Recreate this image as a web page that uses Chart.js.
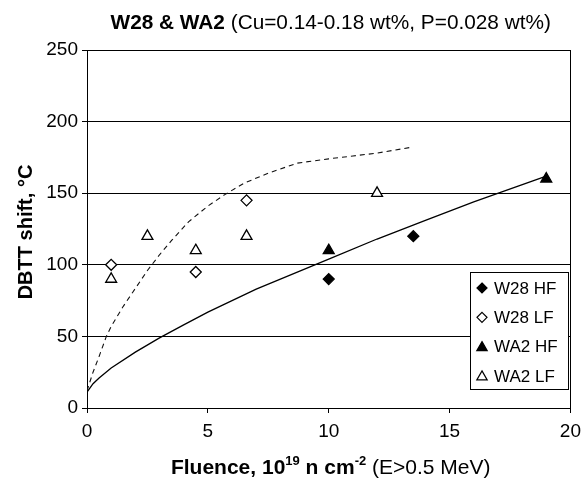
<!DOCTYPE html>
<html>
<head>
<meta charset="utf-8">
<script src="https://cdn.jsdelivr.net/npm/chart.js@4"></script>
<style>
  body { margin: 0; background: #fff; }
  canvas { display: block; }
</style>
</head>
<body>
<canvas id="chart" width="588" height="482"></canvas>
<script>
// data
const w28HfX = [10, 13.5];
const w28HfY = [90, 120];
const w28LfX = [1, 4.5, 6.6];
const w28LfY = [100, 95, 145];
const wa2HfX = [10, 19];
const wa2HfY = [110, 160];
const wa2LfX = [1, 2.5, 4.5, 6.6, 12];
const wa2LfY = [90, 120, 110, 120, 150];

// trend curves (read point by point)
const hfCurveX = [0, 0.25, 0.5, 1, 2, 3, 4, 5, 6, 7, 8, 10, 12, 14, 16, 19];
const hfCurveY = [11, 17, 21, 28, 39, 49, 58, 67, 75, 83, 90, 104, 118, 131, 144, 162];
const lfCurveX = [0, 0.25, 0.5, 0.8, 1, 1.5, 1.9, 2.5, 3, 3.5, 4.2, 5, 5.7, 6.5, 7.5, 8.7, 10, 11, 12, 13.4];
const lfCurveY = [12, 25, 36, 50, 57, 71, 81, 96, 107, 117, 130, 141, 149, 157, 164, 171, 174, 176, 178, 182];

const xTicks = [0, 5, 10, 15, 20];
const yTicks = [0, 50, 100, 150, 200, 250];

const FONT = '"Liberation Sans", Arial, Helvetica, sans-serif';

function pts(xs, ys) {
    return xs.map((x, i) => ({ x: x, y: ys[i] }));
}

const markerSets = [
    { label: 'W28 HF', data: pts(w28HfX, w28HfY), pointStyle: 'rectRot', pointRadius: 5.5, pointBackgroundColor: '#000' },
    { label: 'W28 LF', data: pts(w28LfX, w28LfY), pointStyle: 'rectRot', pointRadius: 5.5, pointBackgroundColor: '#fff' },
    { label: 'WA2 HF', data: pts(wa2HfX, wa2HfY), pointStyle: 'triangle', pointRadius: 6.3, pointBackgroundColor: '#000' },
    { label: 'WA2 LF', data: pts(wa2LfX, wa2LfY), pointStyle: 'triangle', pointRadius: 6.3, pointBackgroundColor: '#fff' }
].map(d => Object.assign(d, {
    showLine: false,
    pointBorderColor: '#000',
    pointBorderWidth: 1.3,
    pointHoverRadius: d.pointRadius,
    order: 0
}));

const curveSets = [
    { label: 'HF fit', data: pts(hfCurveX, hfCurveY), borderColor: '#000', borderWidth: 1.3, borderDash: [] },
    { label: 'LF fit', data: pts(lfCurveX, lfCurveY), borderColor: '#111', borderWidth: 1.1, borderDash: [5, 4] }
].map(d => Object.assign(d, {
    showLine: true,
    pointRadius: 0,
    tension: 0,
    fill: false,
    order: 5
}));

// text made of runs: bold / regular / superscript
function drawRuns(ctx, runs, cx, baseY, size) {
    const fontOf = r => (r.bold ? 'bold ' : '') + (r.sup ? Math.round(size * 0.62) : size) + 'px ' + FONT;
    let total = 0;
    runs.forEach(r => { ctx.font = fontOf(r); r.w = ctx.measureText(r.t).width; total += r.w; });
    let x = cx - total / 2;
    ctx.textBaseline = 'alphabetic';
    ctx.textAlign = 'left';
    runs.forEach(r => {
        ctx.font = fontOf(r);
        ctx.fillText(r.t, x, r.sup ? baseY - size * 0.42 : baseY);
        x += r.w;
    });
}

function drawMarker(ctx, style, filled, x, y, r) {
    ctx.beginPath();
    if (style === 'rectRot') {
        ctx.moveTo(x, y - r); ctx.lineTo(x + r, y); ctx.lineTo(x, y + r); ctx.lineTo(x - r, y);
    } else {
        ctx.moveTo(x, y - r); ctx.lineTo(x + r * 0.866, y + r * 0.5); ctx.lineTo(x - r * 0.866, y + r * 0.5);
    }
    ctx.closePath();
    ctx.fillStyle = filled ? '#000' : '#fff';
    ctx.fill();
    ctx.lineWidth = 1.2;
    ctx.strokeStyle = '#000';
    ctx.stroke();
}

const textPlugin = {
    id: 'texts',
    afterDraw(chart) {
        const ctx = chart.ctx;
        const area = chart.chartArea;
        const midX = (area.left + area.right) / 2;
        ctx.save();
        ctx.fillStyle = '#000';

        drawRuns(ctx, [
            { t: 'W28 & WA2', bold: true },
            { t: ' (Cu=0.14-0.18 wt%, P=0.028 wt%)' }
        ], midX + 2, 29, 20.8);

        drawRuns(ctx, [
            { t: 'Fluence, 10', bold: true },
            { t: '19', bold: true, sup: true },
            { t: ' n cm', bold: true },
            { t: '-2', bold: true, sup: true },
            { t: ' (E>0.5 MeV)' }
        ], midX + 2, 474, 21);

        ctx.save();
        ctx.translate(32, (area.top + area.bottom) / 2 + 3);
        ctx.rotate(-Math.PI / 2);
        drawRuns(ctx, [{ t: 'DBTT shift, °C', bold: true }], 0, 0, 20);
        ctx.restore();

        // legend box
        const bx = 470, by = 272, bw = 98, bh = 117;
        ctx.fillStyle = '#fff';
        ctx.fillRect(bx, by, bw, bh);
        ctx.strokeStyle = '#000';
        ctx.lineWidth = 1;
        ctx.strokeRect(bx + 0.5, by + 0.5, bw, bh);
        markerSets.forEach((d, i) => {
            const y = 288 + i * 29.3;
            drawMarker(ctx, d.pointStyle, d.pointBackgroundColor === '#000', 482, y + (d.pointStyle === 'triangle' ? 1 : 0), d.pointStyle === 'triangle' ? 6 : 5);
            ctx.fillStyle = '#000';
            ctx.font = '17px ' + FONT;
            ctx.textAlign = 'left';
            ctx.textBaseline = 'middle';
            ctx.fillText(d.label, 494, y + 1);
        });
        ctx.restore();
    }
};

new Chart(document.getElementById('chart').getContext('2d'), {
    type: 'scatter',
    data: { datasets: markerSets.concat(curveSets) },
    options: {
        responsive: false,
        devicePixelRatio: 1,
        animation: false,
        layout: { padding: { left: 0, top: 50, right: 12, bottom: 0 } },
        plugins: {
            legend: { display: false },
            title: { display: false },
            tooltip: { enabled: false }
        },
        scales: {
            x: {
                type: 'linear',
                min: 0,
                max: 20,
                afterBuildTicks: s => { s.ticks = xTicks.map(v => ({ value: v })); },
                afterFit: s => { s.height = 74; },
                border: { display: true, color: '#000', width: 1 },
                grid: {
                    color: c => (c.tick && c.tick.value === 20 ? '#000' : 'rgba(0,0,0,0)'),
                    tickColor: '#000',
                    tickLength: 5,
                    drawOnChartArea: true
                },
                ticks: { color: '#000', padding: 7, maxRotation: 0, font: { family: FONT, size: 19 } }
            },
            y: {
                type: 'linear',
                min: 0,
                max: 250,
                afterBuildTicks: s => { s.ticks = yTicks.map(v => ({ value: v })); },
                afterFit: s => { s.width = 87; },
                border: { display: true, color: '#000', width: 1 },
                grid: { color: '#000', tickColor: '#000', tickLength: 5 },
                ticks: { color: '#000', padding: 4, font: { family: FONT, size: 19 } }
            }
        }
    },
    plugins: [textPlugin]
});
</script>
</body>
</html>
